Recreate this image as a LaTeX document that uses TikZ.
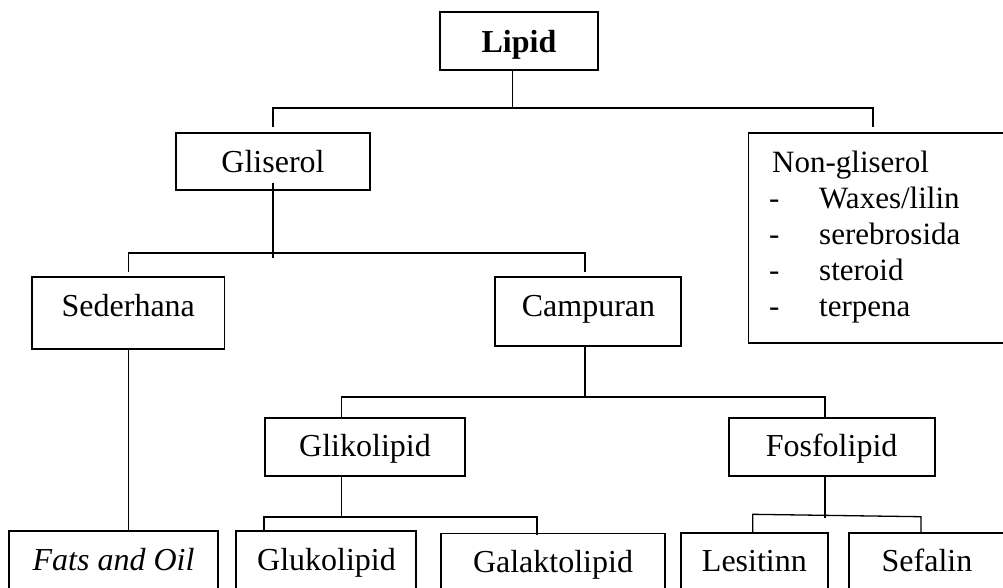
\documentclass[tikz,border=0pt]{standalone}
\usepackage{fontspec}
\setmainfont{Liberation Serif}
\begin{document}
\begin{tikzpicture}[x=1pt,y=-1pt,
  box/.style={draw, line width=1.6pt, rectangle, inner sep=0pt},
  link/.style={line width=1.3pt},
  lbl/.style={anchor=base, inner sep=0pt, font=\fontsize{32}{36}\selectfont},
  lblw/.style={anchor=base west, inner sep=0pt, font=\fontsize{31}{36}\selectfont}]
\clip (0,0) rectangle (1003,587);
% boxes
\node[box, minimum width=158pt, minimum height=58pt] (lipid) at (519,41) {};
\node[box, minimum width=194pt, minimum height=56.5pt] (glis) at (273,161.5) {};
\node[box, minimum width=291.5pt, minimum height=210pt] (nong) at (894.25,238) {};
\node[box, minimum width=192.6pt, minimum height=72pt] (seder) at (128.3,313) {};
\node[box, minimum width=186pt, minimum height=69pt] (camp) at (588,311.5) {};
\node[box, minimum width=200pt, minimum height=58pt] (glik) at (365,447) {};
\node[box, minimum width=206pt, minimum height=58pt] (fosf) at (831.7,447) {};
\node[box, minimum width=209pt, minimum height=109.3pt] (fats) at (113.5,585.35) {};
\node[box, minimum width=179.7pt, minimum height=109.3pt] (gluk) at (325.85,585.35) {};
\node[box, minimum width=224.3pt, minimum height=106.7pt] (galak) at (552.85,586.65) {};
\node[box, minimum width=147pt, minimum height=107.3pt] (lesit) at (754.2,586.35) {};
\node[box, minimum width=161pt, minimum height=107.3pt] (sefal) at (929.5,586.35) {};
% texts
\node[lbl] (lipid-t) at (519,52.7) {\bfseries Lipid};
\node[lbl] (glis-t) at (273,172.7) {Gliserol};
\node[lblw] (nong-t) at (772,172.3) {Non-gliserol};
\node[lblw] (d1) at (769,208.4) {-};
\node[lblw] (n1) at (819,208.4) {Waxes/lilin};
\node[lblw] (d2) at (769,244.5) {-};
\node[lblw] (n2) at (819,244.5) {serebrosida};
\node[lblw] (d3) at (769,280.6) {-};
\node[lblw] (n3) at (819,280.6) {steroid};
\node[lblw] (d4) at (769,316.7) {-};
\node[lblw] (n4) at (819,316.7) {terpena};
\node[lbl] (seder-t) at (128.3,316.7) {Sederhana};
\node[lbl] (camp-t) at (588.5,316.7) {Campuran};
\node[lbl] (glik-t) at (365,456.7) {Glikolipid};
\node[lbl] (fosf-t) at (831.6,456.7) {Fosfolipid};
\node[lbl] (fats-t) at (113.5,570) {\itshape Fats and Oil};
\node[lbl] (gluk-t) at (326.5,570.7) {Glukolipid};
\node[lbl] (galak-t) at (553,572.7) {Galaktolipid};
\node[lbl] (lesit-t) at (754.4,571.7) {Lesitinn};
\node[lbl] (sefal-t) at (927,571.7) {Sefalin};
% junctions
\coordinate (j1) at (512.5,108);
\coordinate (j1r) at (873,108);
\coordinate (j2) at (273,253);
\coordinate (j2r) at (585,253);
\coordinate (j3) at (585,397);
\coordinate (j3l) at (341.6,397);
\coordinate (j3r) at (825,397);
\coordinate (j4) at (341.6,517);
\coordinate (j4l) at (264,517);
\coordinate (j4r) at (536.7,517);
\coordinate (j5) at (825,517.7);
\coordinate (j5l) at (752.7,514.3);
\coordinate (j5r) at (921,516.7);
% connectors
\draw[link] (lipid.south -| j1) -- (j1);
\draw[link, shorten <=5pt, shorten >=5pt] (glis.north) |- (j1r) -- (nong.north -| j1r);
\draw[link, shorten <=-8pt, shorten >=-5pt] (glis.south) -- (j2);
\draw[link, shorten <=4pt, shorten >=4pt] (seder.north) |- (j2r) -- (camp.north -| j2r);
\draw[link] (seder.south) -- (seder.south |- fats.north);
\draw[link] (camp.south -| j3) -- (j3);
\draw[link] (glik.north -| j3l) |- (j3r) -- (fosf.north -| j3r);
\draw[link] (glik.south -| j4) -- (j4);
\draw[link, line width=1.8pt, shorten <=-2.3pt, shorten >=-2.7pt] (gluk.north -| j4l) |- (j4r) -- (galak.north -| j4r);
\draw[link] (fosf.south -| j5) -- (j5);
\draw[link] (lesit.north -| j5l) -- (j5l) -- (j5r) -- (sefal.north -| j5r);
\end{tikzpicture}
\end{document}
